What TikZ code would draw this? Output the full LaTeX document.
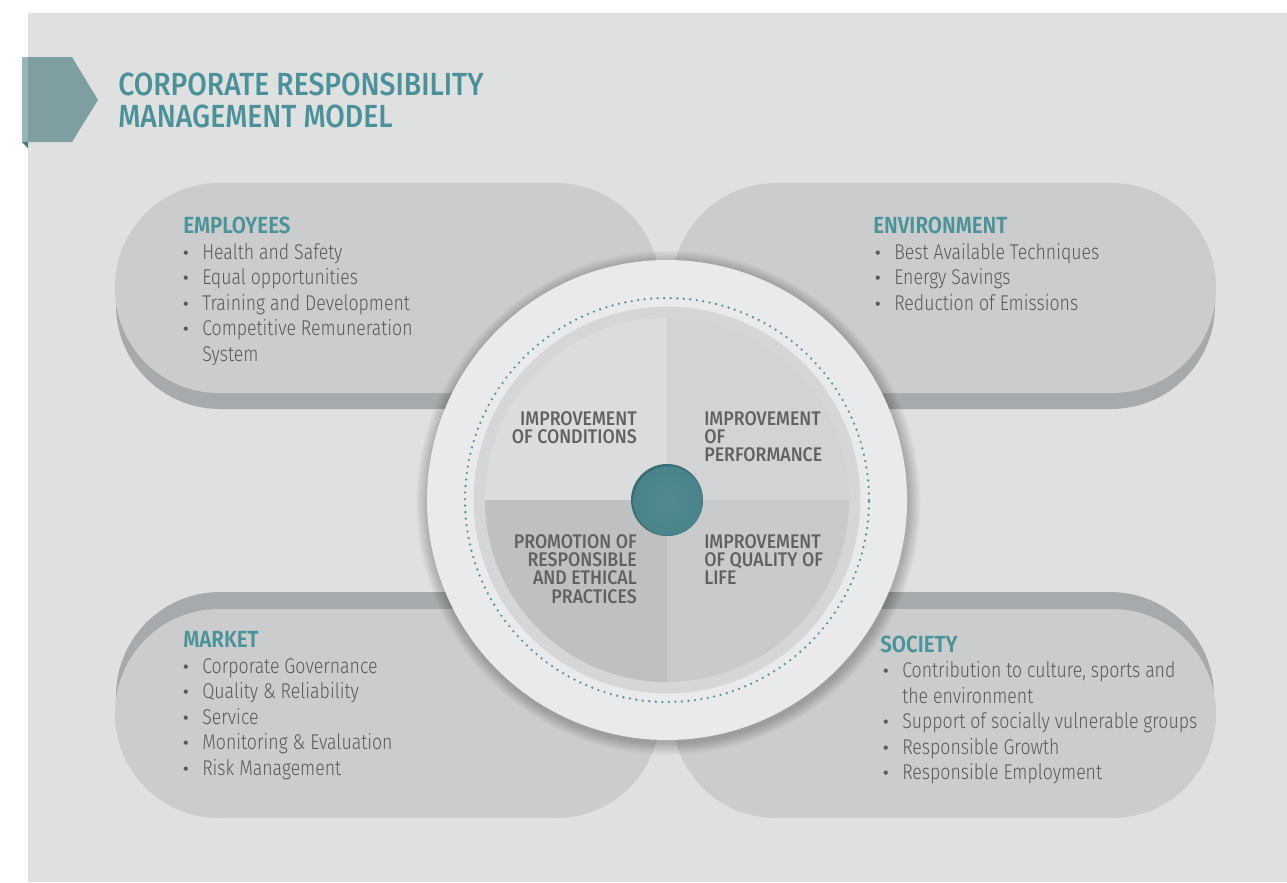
\documentclass[tikz,border=0pt]{standalone}
\usepackage{fontspec}
\setmainfont{Fira Sans}
\newfontfamily\titlef{Fira Sans Medium}[FakeStretch=0.885]
\newfontfamily\lightf{Fira Sans Light}[FakeStretch=0.83]
\newfontfamily\bulf{Fira Sans}
\newfontfamily\medf{Fira Sans Medium}[FakeStretch=0.9]
\newfontfamily\headf{Fira Sans SemiBold}[FakeStretch=0.88]
\definecolor{bgc}{HTML}{DFE0E0}
\definecolor{pillc}{HTML}{CACCCD}
\definecolor{extc}{HTML}{A7AAAC}
\definecolor{ringc}{HTML}{E9EAEC}
\definecolor{bandc}{HTML}{D5D6D8}
\definecolor{qa}{HTML}{DBDCDD}
\definecolor{qb}{HTML}{D2D3D5}
\definecolor{qc}{HTML}{BFC0C2}
\definecolor{qd}{HTML}{C9CACC}
\definecolor{tealc}{HTML}{4A838A}
\definecolor{tealdark}{HTML}{3A6E74}
\definecolor{dotc}{HTML}{5B8F95}
\definecolor{titlec}{HTML}{4B9199}
\definecolor{headc}{HTML}{4A9399}
\definecolor{textc}{HTML}{58595B}
\definecolor{qtc}{HTML}{606163}
\definecolor{bannerc}{HTML}{7F9EA2}
\definecolor{bannerl}{HTML}{95B5B9}
\definecolor{bannerd}{HTML}{4E7479}
\newcommand\bitem[4]{%
  \node[bulnode] (#1b) at (#2-16,#3) {•};
  \node[bodytext] (#1) at (#2,#3) {#4};}
\begin{document}
\begin{tikzpicture}[x=0.75pt,y=-0.75pt,
  pill/.style={rounded corners=78pt},
  bodytext/.style={font=\lightf\fontsize{16}{19}\selectfont, text=textc, inner sep=0pt, anchor=base west},
  bulnode/.style={font=\bulf\fontsize{14}{16}\selectfont, text=textc, inner sep=0pt, anchor=base},
  headtext/.style={font=\headf\fontsize{17.5}{20}\selectfont, text=headc, inner sep=0pt, anchor=base west},
  titletext/.style={font=\titlef\fontsize{24}{28}\selectfont, text=titlec, inner sep=0pt, anchor=base west},
  qleft/.style={font=\medf\fontsize{14.8}{17}\selectfont, text=qtc, inner sep=0pt, anchor=base west},
  qright/.style={font=\medf\fontsize{14.8}{17}\selectfont, text=qtc, inner sep=0pt, anchor=base east}]
\useasboundingbox (0,0) rectangle (1287,882);
\fill[white] (0,0) rectangle (1287,882);
\fill[bgc] (28,13) rectangle (1287,882);
% banner
\fill[bannerc] (22,57) -- (72,57) -- (98,100) -- (72,142) -- (22,142) -- cycle;
\fill[bannerl] (22,57) rectangle (28,142);
\fill[bannerd] (22,142) -- (28,142) -- (28,148) -- cycle;
\node[titletext] (t1) at (118,95) {CORPORATE RESPONSIBILITY};
\node[titletext] (t2) at (118,127.5) {MANAGEMENT MODEL};
% pills
\fill[extc,pill] (116,199) rectangle (660,409);
\fill[pillc,pill] (115,183) rectangle (660,393);
\fill[extc,pill] (672,199) rectangle (1215,409);
\fill[pillc,pill] (672,183) rectangle (1216,393);
\fill[extc,pill] (116,592) rectangle (660,801);
\fill[pillc,pill] (115,609) rectangle (660,818);
\fill[extc,pill] (672,592) rectangle (1214,801);
\fill[pillc,pill] (672,609) rectangle (1216,818);
% circle
\coordinate (C) at (667,500);
\foreach \i in {1,...,10} \fill[black,opacity=0.022] ([xshift=1pt,yshift=-2pt]C) circle[radius=180pt+\i*0.9pt];
\fill[ringc] (C) circle[radius=180pt];
\shade[inner color=bandc, outer color=ringc] (C) circle[radius=149pt];
\fill[bandc] (C) circle[radius=145pt];
\fill[qa] (C) -- ++(180:136.5pt) arc[start angle=180,end angle=90,radius=136.5pt] -- cycle;
\fill[qb] (C) -- ++(90:136.5pt) arc[start angle=90,end angle=0,radius=136.5pt] -- cycle;
\fill[qd] (C) -- ++(0:136.5pt) arc[start angle=0,end angle=-90,radius=136.5pt] -- cycle;
\fill[qc] (C) -- ++(-90:136.5pt) arc[start angle=-90,end angle=-180,radius=136.5pt] -- cycle;
\draw[dotc, line width=1.9pt, line cap=round, dash pattern=on 0pt off 4.9pt] (C) circle[radius=151.5pt];
\fill[tealdark] (C) circle[radius=27pt];
\shade[inner color=tealc!95!white, outer color=tealc] ([xshift=0.8pt,yshift=-0.8pt]C) circle[radius=26pt];
% quadrant labels
\node[qright] (a1) at (637,425) {IMPROVEMENT};
\node[qright] (a2) at (637,443) {OF CONDITIONS};
\node[qleft] (b1) at (704,425) {IMPROVEMENT};
\node[qleft] (b2) at (704,443) {OF};
\node[qleft] (b3) at (704,461) {PERFORMANCE};
\node[qright] (c1) at (637,548) {PROMOTION OF};
\node[qright] (c2) at (637,566.3) {RESPONSIBLE};
\node[qright] (c3) at (637,584.7) {AND ETHICAL};
\node[qright] (c4) at (637,603) {PRACTICES};
\node[qleft] (d1) at (704,548) {IMPROVEMENT};
\node[qleft] (d2) at (704,566.3) {OF QUALITY OF};
\node[qleft] (d3) at (704,584.7) {LIFE};
% employees
\node[headtext] (emp) at (183,233) {EMPLOYEES};
\bitem{e1}{202}{259}{Health and Safety}
\bitem{e2}{202}{284.5}{Equal opportunities}
\bitem{e3}{202}{310}{Training and Development}
\bitem{e4}{202}{335.5}{Competitive Remuneration}
\node[bodytext] (e5) at (202,361) {System};
% environment
\node[headtext] (env) at (873,233) {ENVIRONMENT};
\bitem{n1}{894}{259}{Best Available Techniques}
\bitem{n2}{894}{284.5}{Energy Savings}
\bitem{n3}{894}{310}{Reduction of Emissions}
% market
\node[headtext] (mkt) at (183,647) {MARKET};
\bitem{m1}{202}{673}{Corporate Governance}
\bitem{m2}{202}{698.5}{Quality \& Reliability}
\bitem{m3}{202}{724}{Service}
\bitem{m4}{202}{749.5}{Monitoring \& Evaluation}
\bitem{m5}{202}{775}{Risk Management}
% society
\node[headtext] (soc) at (880,652) {SOCIETY};
\bitem{s1}{902}{677}{Contribution to culture, sports and}
\node[bodytext] (s2) at (902,703) {the environment};
\bitem{s3}{902}{728}{Support of socially vulnerable groups}
\bitem{s4}{902}{754}{Responsible Growth}
\bitem{s5}{902}{779}{Responsible Employment}
\end{tikzpicture}
\end{document}
